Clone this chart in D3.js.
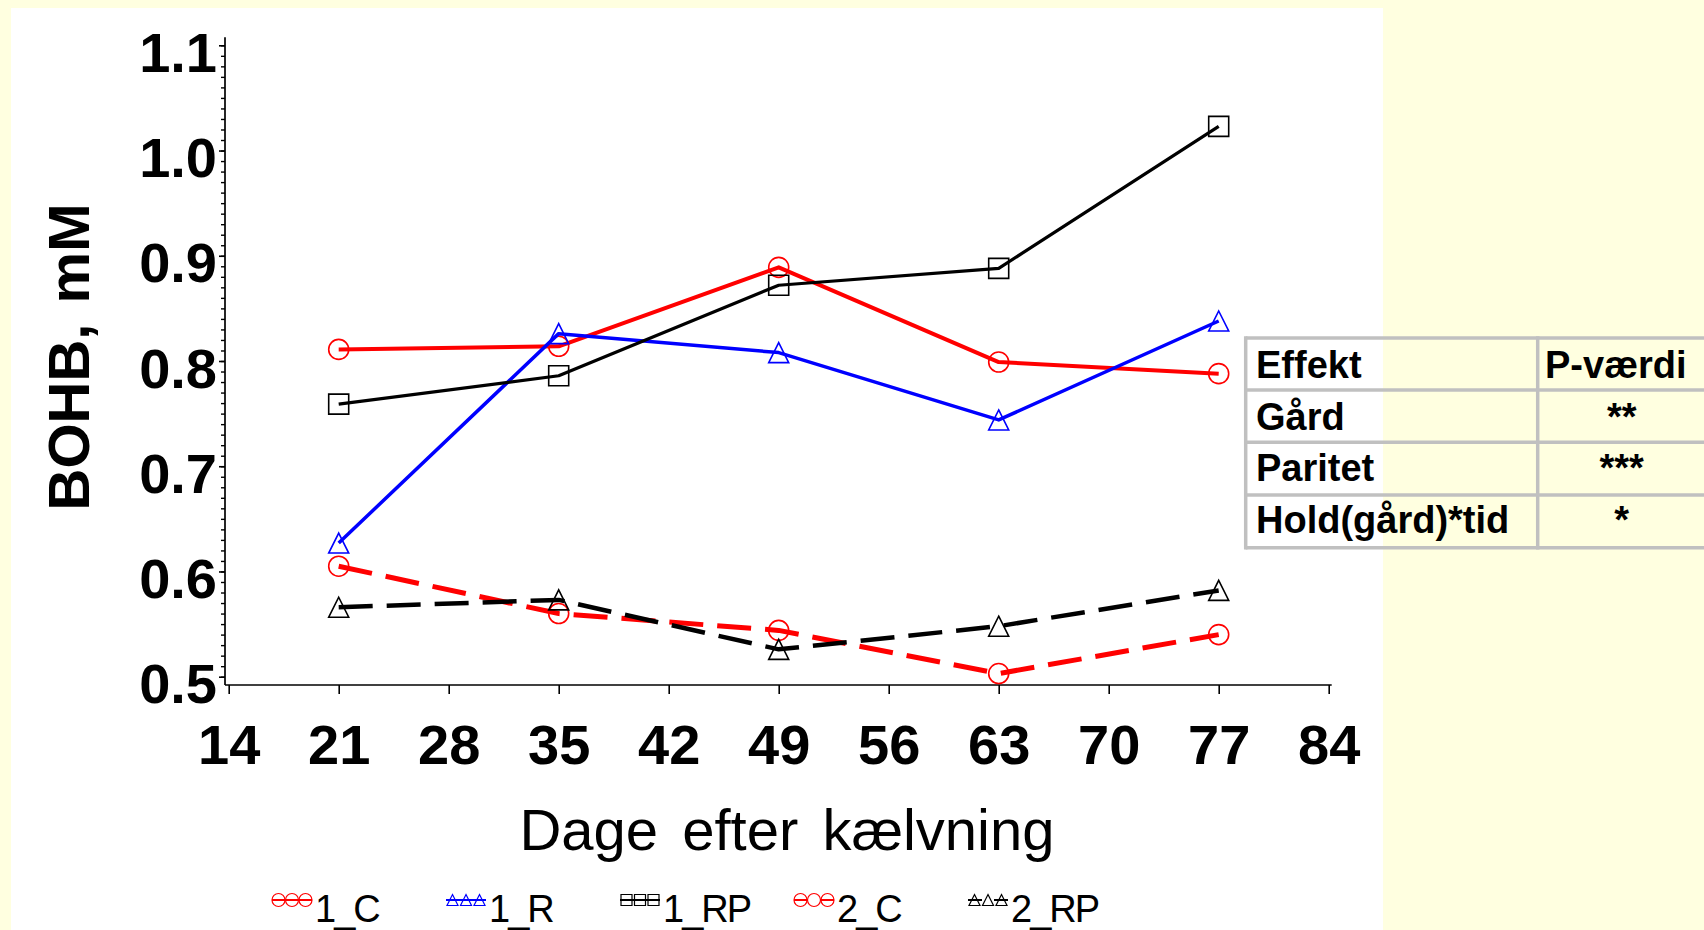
<!DOCTYPE html>
<html>
<head>
<meta charset="utf-8">
<script src="https://cdn.jsdelivr.net/npm/d3@7"></script>
<style>
    body { margin: 0; background: #FFFFE0; }
    svg { display: block; font-family: "Liberation Sans", Arial, sans-serif; }
</style>
</head>
<body>
<div id="my_dataviz"></div>
<script>

// data
var days = [21, 35, 49, 63, 77];
var c1 = [0.811, 0.814, 0.889, 0.799, 0.788];
var r1 = [0.627, 0.826, 0.808, 0.744, 0.838];
var rp1 = [0.759, 0.786, 0.872, 0.888, 1.023];
var c2 = [0.605, 0.560, 0.544, 0.503, 0.540];
var rp2 = [0.566, 0.573, 0.526, 0.548, 0.582];

var seriesNames = ["1_C", "1_R", "1_RP", "2_C", "2_RP"];
var seriesValues = [c1, r1, rp1, c2, rp2];

var xTicks = [14, 21, 28, 35, 42, 49, 56, 63, 70, 77, 84];
var yTicks = [0.5, 0.6, 0.7, 0.8, 0.9, 1.0, 1.1];

var tableRows = [["Effekt", "P-værdi"], ["Gård", "**"], ["Paritet", "***"], ["Hold(gård)*tid", "*"]];

// look of each series
var styles = [
    { color: "#FF0000", shape: "circle", width: 4, dash: null },
    { color: "#0000FF", shape: "triangle", width: 3.5, dash: null },
    { color: "#000000", shape: "square", width: 3.2, dash: null },
    { color: "#FF0000", shape: "circle", width: 5, dash: "34,14" },
    { color: "#000000", shape: "triangle", width: 4.5, dash: "34,14" }
];

var W = 1704, H = 930;

var svg = d3.select("#my_dataviz")
    .append("svg")
    .attr("width", W)
    .attr("height", H);

svg.append("rect").attr("width", W).attr("height", H).attr("fill", "#FFFFE0");
svg.append("rect").attr("x", 11).attr("y", 8).attr("width", 1372).attr("height", H - 8).attr("fill", "#FFFFFF");

var x = d3.scaleLinear()
    .domain([14, 84])
    .range([228.7, 1328.7]);

var y = d3.scaleLinear()
    .domain([0.5, 1.1])
    .range([676.7, 45.3]);

var axisY = 685, axisX = 225;

// X axis
var gx = svg.append("g")
    .attr("transform", "translate(0," + axisY + ")")
    .call(d3.axisBottom(x).tickValues(xTicks).tickSize(9).tickSizeOuter(0).tickFormat(d3.format("d")));
gx.select(".domain").remove();
gx.selectAll("line").attr("stroke", "#000").attr("stroke-width", 1.6);
gx.selectAll("text")
    .attr("y", 79)
    .attr("dy", 0)
    .attr("font-size", 56)
    .attr("font-weight", "bold")
    .attr("font-family", "Liberation Sans, Arial, sans-serif")
    .attr("fill", "#000");

// Y axis minor ticks
var gyMinor = svg.append("g")
    .attr("transform", "translate(" + axisX + ",0)")
    .call(d3.axisLeft(y).tickValues(d3.range(50, 111).map(function (d) { return d / 100; })).tickSize(4).tickFormat(""));
gyMinor.select(".domain").remove();
gyMinor.selectAll("line").attr("stroke", "#000").attr("stroke-width", 1.4);

// Y axis
var gy = svg.append("g")
    .attr("transform", "translate(" + axisX + ",0)")
    .call(d3.axisLeft(y).tickValues(yTicks).tickSize(6).tickFormat(d3.format(".1f")));
gy.select(".domain").remove();
gy.selectAll("line").attr("stroke", "#000").attr("stroke-width", 1.6);
gy.selectAll("text")
    .attr("x", -8)
    .attr("dy", 26)
    .attr("font-size", 56)
    .attr("font-weight", "bold")
    .attr("font-family", "Liberation Sans, Arial, sans-serif")
    .attr("fill", "#000");

// axis lines, a little longer than the tick range
svg.append("line")
    .attr("x1", axisX).attr("x2", axisX)
    .attr("y1", y(1.1) - 8).attr("y2", axisY)
    .attr("stroke", "#000").attr("stroke-width", 1.7);
svg.append("line")
    .attr("x1", axisX).attr("x2", x(84) + 3)
    .attr("y1", axisY).attr("y2", axisY)
    .attr("stroke", "#000").attr("stroke-width", 1.7);

// axis titles
svg.append("text")
    .attr("x", 787)
    .attr("y", 850)
    .attr("text-anchor", "middle")
    .attr("font-size", 58)
    .attr("word-spacing", 8)
    .text("Dage efter kælvning");

svg.append("text")
    .attr("transform", "translate(89,357) rotate(-90)")
    .attr("text-anchor", "middle")
    .attr("font-size", 58)
    .attr("font-weight", "bold")
    .attr("word-spacing", 4)
    .text("BOHB, mM");

function markerPath(shape, s) {
    var h = s / 2;
    if (shape == "square") {
        return "M" + (-h) + "," + (-h) + "H" + h + "V" + h + "H" + (-h) + "Z";
    } else if (shape == "triangle") {
        return "M0," + (-h) + "L" + h + "," + h + "L" + (-h) + "," + h + "Z";
    }
    return d3.symbol().type(d3.symbolCircle).size(Math.PI * h * h)();
}

var line = d3.line()
    .x(function (d) { return x(d[0]) })
    .y(function (d) { return y(d[1]) });

seriesValues.forEach(function (vals, i) {
    var st = styles[i];
    var data = days.map(function (d, j) { return [d, vals[j]]; });

    svg.append("path")
        .datum(data)
        .attr("fill", "none")
        .attr("stroke", st.color)
        .attr("stroke-width", st.width)
        .attr("stroke-dasharray", st.dash)
        .attr("stroke-linejoin", "round")
        .attr("d", line);

    svg.selectAll(".m" + i)
        .data(data)
        .enter()
        .append("path")
        .attr("class", "m" + i)
        .attr("transform", function (d) { return "translate(" + x(d[0]) + "," + y(d[1]) + ")"; })
        .attr("d", markerPath(st.shape, 20))
        .attr("fill", "none")
        .attr("stroke", st.color)
        .attr("stroke-width", 1.6);
});

// legend
var legend = svg.append("g");
seriesNames.forEach(function (name, i) {
    var st = styles[i];
    var lx = 272 + i * 174;
    var g = legend.append("g").attr("transform", "translate(" + lx + ",900)");
    g.append("line")
        .attr("x1", 0).attr("x2", 40)
        .attr("stroke", st.color)
        .attr("stroke-width", 2)
        .attr("stroke-dasharray", st.dash ? "14,12,14" : null);
    [6.5, 20, 33.5].forEach(function (mx) {
        g.append("path")
            .attr("transform", "translate(" + mx + ",0)")
            .attr("d", markerPath(st.shape, st.shape == "circle" ? 13 : 11))
            .attr("fill", "none")
            .attr("stroke", st.color)
            .attr("stroke-width", 1.2);
    });
    g.append("text")
        .attr("x", 43)
        .attr("y", 22)
        .attr("font-size", 38)
        .attr("letter-spacing", -2)
        .text(name);
});

// effects table
var tLeft = 1245.7, tMid = 1537.7, tRight = 1720;
var rowLines = [338, 390, 442.3, 495, 547.7];
var baselines = [378, 430, 481, 533];

var table = svg.append("g");
rowLines.forEach(function (ry) {
    table.append("line")
        .attr("x1", tLeft).attr("x2", tRight)
        .attr("y1", ry).attr("y2", ry)
        .attr("stroke", "#C0C0C0").attr("stroke-width", 3.5);
});
[tLeft, tMid].forEach(function (cx) {
    table.append("line")
        .attr("x1", cx).attr("x2", cx)
        .attr("y1", rowLines[0] - 1.75).attr("y2", rowLines[4] + 1.75)
        .attr("stroke", "#C0C0C0").attr("stroke-width", 3.5);
});
tableRows.forEach(function (row, i) {
    table.append("text")
        .attr("x", 1256)
        .attr("y", baselines[i])
        .attr("font-size", 38)
        .attr("font-weight", "bold")
        .text(row[0]);
    table.append("text")
        .attr("x", i == 0 ? 1545 : 1621.7)
        .attr("y", baselines[i])
        .attr("text-anchor", i == 0 ? "start" : "middle")
        .attr("font-size", 38)
        .attr("font-weight", "bold")
        .text(row[1]);
});

</script>
</body>
</html>
